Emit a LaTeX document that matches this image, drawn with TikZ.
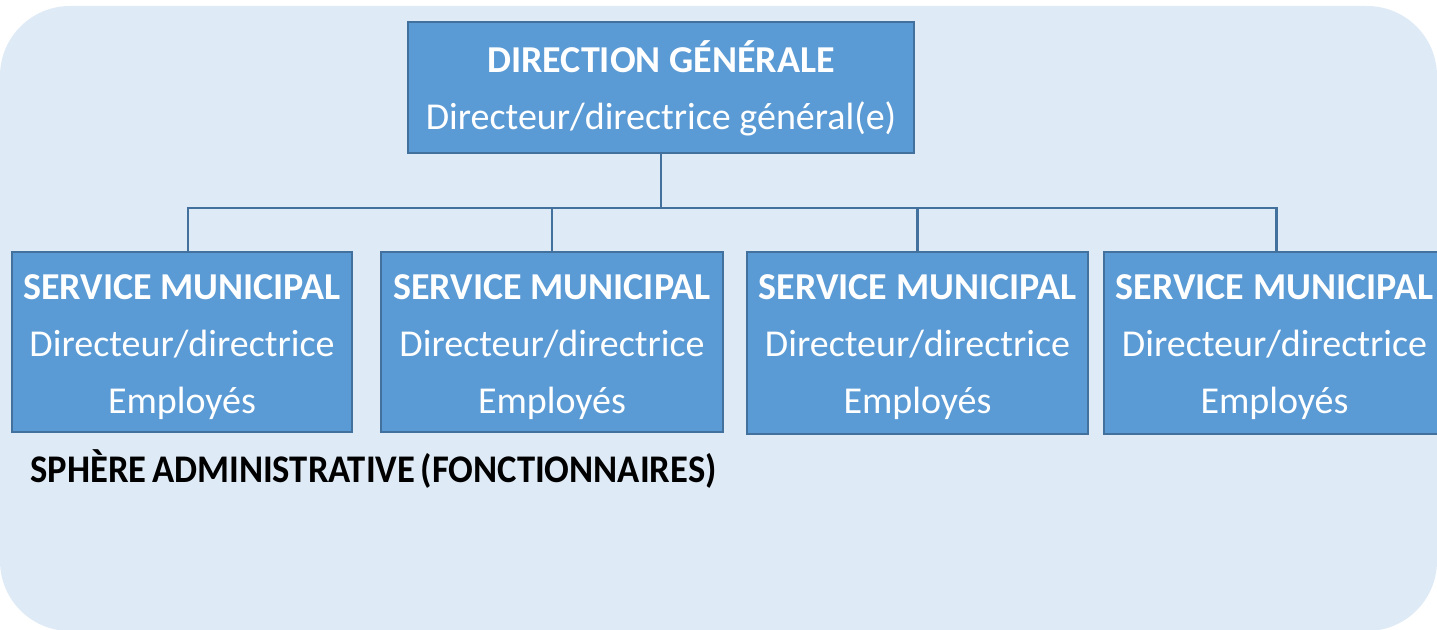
\documentclass[tikz,border=0pt]{standalone}
\usepackage{fontspec}
\setmainfont{Carlito}
\usepackage{tikz}
\usetikzlibrary{positioning}

\definecolor{bgblue}{HTML}{DEEAF6}
\definecolor{boxblue}{HTML}{5B9BD5}
\definecolor{edgeblue}{HTML}{41719C}

\tikzset{
	unit/.style={draw=edgeblue,line width=1pt,fill=boxblue,text=white,inner sep=0pt,
		align=center,font=\fontsize{19}{28.5}\selectfont},
	link/.style={draw=edgeblue,line width=1.2pt}
}

\begin{document}
\begin{tikzpicture}[x=0.5pt,y=-0.5pt]
	\useasboundingbox (0,0) rectangle (1437,630);
	\clip (0,0) rectangle (1437,630);
	% fond
	\fill[bgblue,rounded corners=35pt] (0,6) rectangle (1437,631);

	% direction
	\node[unit,minimum width=253pt,minimum height=65.5pt] at (661,87.5) (dg)
		{\rule{0pt}{16.5pt}\textbf{DIRECTION GÉNÉRALE}\\Directeur/directrice général(e)};

	% services
	\node[unit,minimum width=170pt,minimum height=90pt] at (182,342.5) (s1)
		{\rule{0pt}{17pt}\textbf{SERVICE MUNICIPAL}\\Directeur/directrice\\Employés};
	\node[unit,minimum width=171pt,minimum height=90pt] at (552,342.5) (s2)
		{\rule{0pt}{17pt}\textbf{SERVICE MUNICIPAL}\\Directeur/directrice\\Employés};
	\node[unit,minimum width=170.5pt,minimum height=91pt] at (917.5,343) (s3)
		{\rule{0pt}{17pt}\textbf{SERVICE MUNICIPAL}\\Directeur/directrice\\Employés};
	\node[unit,minimum width=170.5pt,minimum height=91pt] at (1274.5,343) (s4)
		{\rule{0pt}{17pt}\textbf{SERVICE MUNICIPAL}\\Directeur/directrice\\Employés};

	% liaisons
	\coordinate (bus) at (661,208);
	\draw[link] (dg.south) -- (bus);
	\draw[link] ([xshift=3pt]s1.north) |- (bus) -| ([xshift=1pt]s4.north);
	\draw[link] (s2.north) -- (s2.north |- bus);
	\draw[link] (s3.north) -- (s3.north |- bus);

	\node[font=\fontsize{19}{22}\selectfont\bfseries,anchor=west,inner sep=0pt] at (30,469) (sphere)
		{\scalebox{0.963}[1.03]{\spaceskip=0.15em SPHÈRE ADMINISTRATIVE (FONCTIONNAIRES)}};
\end{tikzpicture}
\end{document}
